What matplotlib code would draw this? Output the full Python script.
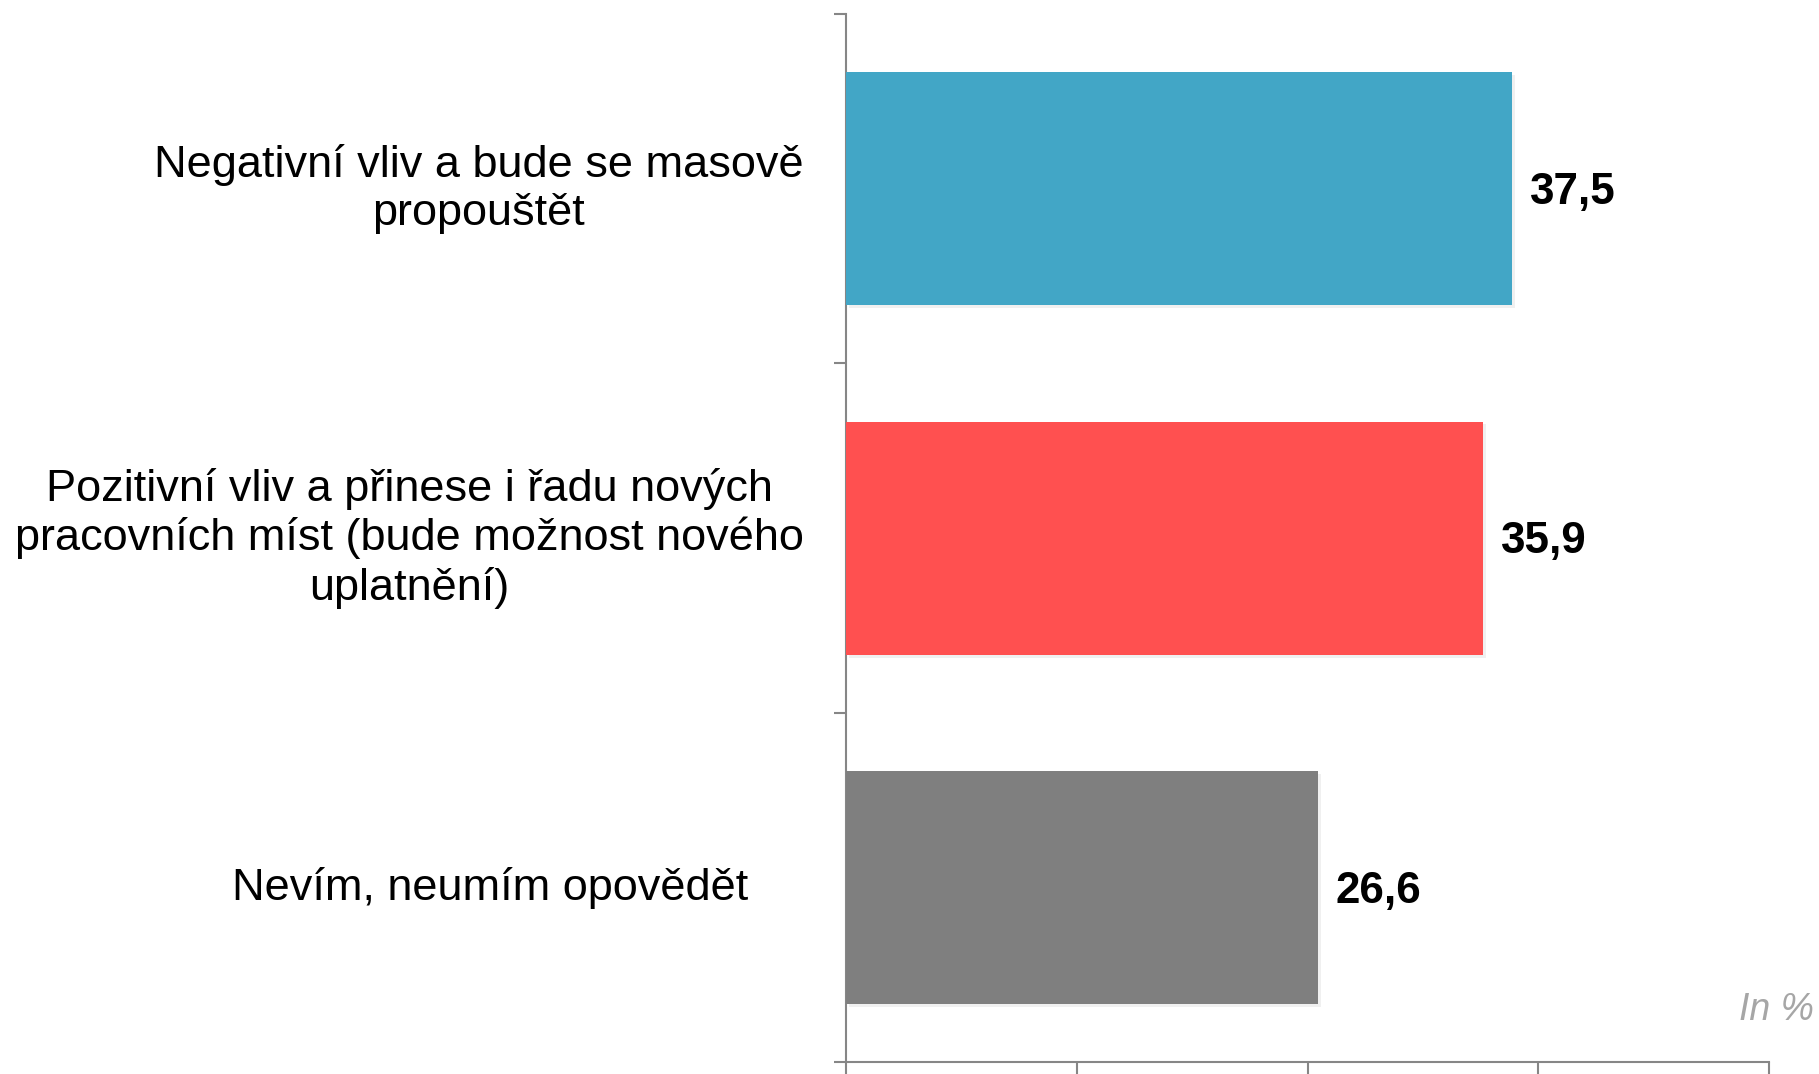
#!/usr/bin/env python3
"""
Horizontal bar chart: expected impact (Czech survey), values in %.

Output:
    out.png
"""

import matplotlib
matplotlib.use('Agg')
import matplotlib.pyplot as plt
import matplotlib.patheffects as pe

# Data (top to bottom)
categories = [
    'Negativní vliv a bude se masově\npropouštět',
    'Pozitivní vliv a přinese i řadu nových\npracovních míst (bude možnost nového\nuplatnění)',
    'Nevím, neumím opovědět',
]
values = [37.5, 35.9, 26.6]
value_labels = ['37,5', '35,9', '26,6']
bar_colors = ['#42A6C6', '#FF5050', '#7F7F7F']

# Layout helpers (label block centres, axes fraction)
label_x = [-0.398, -0.473, -0.385]
x_ticks = [0, 13, 26, 39, 52]

plt.rcParams['font.family'] = ['Liberation Sans', 'DejaVu Sans']

fig = plt.figure(figsize=(18.19, 10.74), dpi=100)
ax = fig.add_axes([0.4651, 0.0108, 0.5075, 0.9762])

axis_gray = '#868686'

# categories drawn top to bottom: centre of slot i is at 2.5 - i
y_pos = [len(categories) - 0.5 - i for i in range(len(categories))]

bars = ax.barh(y_pos, values, height=0.667, color=bar_colors, zorder=3)
for b in bars:
    b.set_path_effects([pe.SimplePatchShadow(offset=(2, -2), shadow_rgbFace='#000000', alpha=0.06),
                        pe.Normal()])

for y, v, lab in zip(y_pos, values, value_labels):
    ax.text(v + 1.0, y - 0.01, lab, va='center', ha='left', fontsize=31.7,
            fontweight='bold', color='black')

for y, cat, lx in zip(y_pos, categories, label_x):
    ax.text(lx, y, cat, transform=ax.get_yaxis_transform(), ha='center',
            va='center', multialignment='center', fontsize=32.5,
            linespacing=1.22, color='black')

ax.set_xlim(x_ticks[0], x_ticks[-1])
ax.set_ylim(0, len(categories))
ax.set_xticks(x_ticks)
ax.set_yticks(range(len(categories) + 1))
ax.set_xticklabels([])
ax.set_yticklabels([])

for side in ['top', 'right']:
    ax.spines[side].set_visible(False)
for side in ['left', 'bottom']:
    ax.spines[side].set_color(axis_gray)
    ax.spines[side].set_linewidth(1.5)

ax.tick_params(axis='both', direction='out', length=9, width=1.5, color=axis_gray)

fig.text(0.9975, 0.06, 'In %', ha='right', va='center', fontsize=27,
         style='italic', color='#A6A6A6')

plt.savefig('out.png', dpi=100, facecolor='white')
